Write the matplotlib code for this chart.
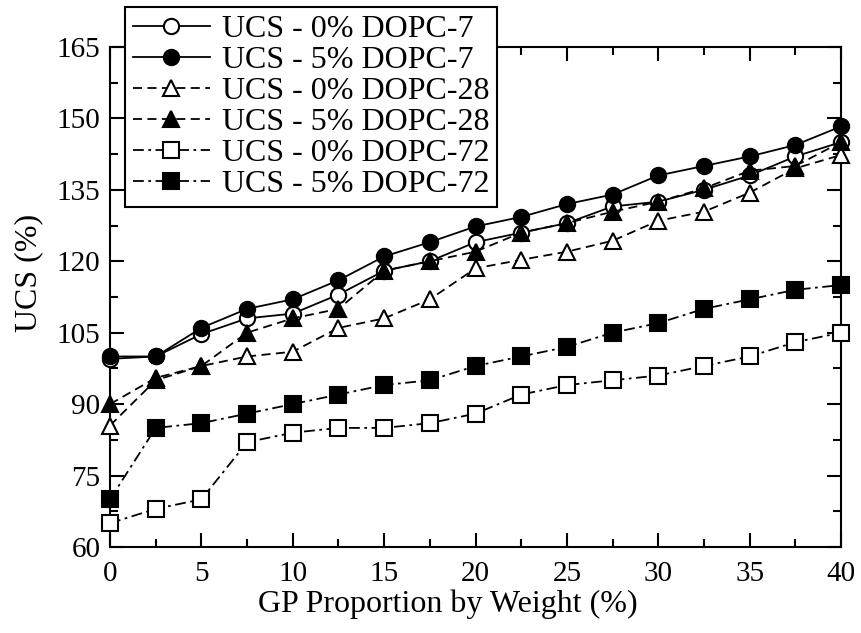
import numpy as np
import matplotlib.pyplot as plt
from matplotlib.ticker import MultipleLocator

plt.rcParams['font.family'] = ['Liberation Serif', 'DejaVu Serif']

gp = [0, 2.5, 5, 7.5, 10, 12.5, 15, 17.5, 20, 22.5, 25, 27.5, 30, 32.5, 35, 37.5, 40]

ucs_0_7 = [99.5, 100, 104.7, 108, 109, 113, 118, 120, 124, 126, 128, 131.5, 132.5, 135, 138, 142, 145]
ucs_5_7 = [100, 100, 106, 110, 112, 116, 121, 124, 127.3, 129.3, 132, 134, 138, 140, 142, 144.4, 148.3]
ucs_0_28 = [85.5, 95, 98, 100, 101, 106, 108, 112, 118.5, 120.3, 122, 124.3, 128.5, 130.4, 134.4, 139.5, 142.3]
ucs_5_28 = [90, 95.5, 98, 105, 108, 110, 118, 120, 122, 126, 128, 130.4, 132.5, 135.3, 139, 140, 145]
ucs_0_72 = [65, 68, 70, 82, 84, 85, 85, 86, 88, 92, 94, 95, 96, 98, 100, 103, 105]
ucs_5_72 = [70, 85, 86, 88, 90, 92, 94, 95, 98, 100, 102, 105, 107, 110, 112, 114, 115]

fig = plt.figure(figsize=(8.61, 6.33), dpi=100)
ax = fig.add_axes([0.1278, 0.1359, 0.849, 0.79])

dashdot = (0, (6, 2.5, 1.5, 2.5))
series = [
    (ucs_0_7, '-', 'o', 'white', 'UCS - 0% DOPC-7'),
    (ucs_5_7, '-', 'o', 'black', 'UCS - 5% DOPC-7'),
    (ucs_0_28, (0, (5, 3)), '^', 'white', 'UCS - 0% DOPC-28'),
    (ucs_5_28, (0, (5, 3)), '^', 'black', 'UCS - 5% DOPC-28'),
    (ucs_0_72, dashdot, 's', 'white', 'UCS - 0% DOPC-72'),
    (ucs_5_72, dashdot, 's', 'black', 'UCS - 5% DOPC-72'),
]
for vals, ls, mk, fc, lab in series:
    ax.plot(gp, vals, linestyle=ls, marker=mk, color='black', mfc=fc, mec='black',
            markersize=11, mew=1.5, lw=1.3, label=lab, clip_on=False, zorder=3)

ax.set_xlim(0, 40)
ax.set_ylim(60, 165)
ax.xaxis.set_major_locator(MultipleLocator(5))
ax.xaxis.set_minor_locator(MultipleLocator(2.5))
ax.yaxis.set_major_locator(MultipleLocator(15))
ax.yaxis.set_minor_locator(MultipleLocator(7.5))
ax.tick_params(which='both', direction='in', top=True, right=True, labelsize=21, width=1.5)
ax.tick_params(which='major', length=10)
ax.tick_params(which='minor', length=6)
ax.tick_params(axis='y', which='major', pad=7)
ax.tick_params(axis='x', which='major', pad=10)
for sp in ax.spines.values():
    sp.set_linewidth(1.5)

ax.set_xlabel('GP Proportion by Weight (%)', fontsize=23, labelpad=0)
ax.xaxis.set_label_coords(0.462, -0.085)
ax.set_ylabel('UCS (%)', fontsize=23)
ax.yaxis.set_label_coords(-0.092, 0.548)

leg = ax.legend(loc='upper left', bbox_to_anchor=(0.0205, 1.08), fontsize=23,
                frameon=True, fancybox=False, edgecolor='black', framealpha=1,
                handlelength=2.4, handletextpad=0.38, borderpad=0.25, labelspacing=0.05,
                borderaxespad=0)
leg.get_frame().set_linewidth(1.5)

fig.savefig('out.png', dpi=100)
